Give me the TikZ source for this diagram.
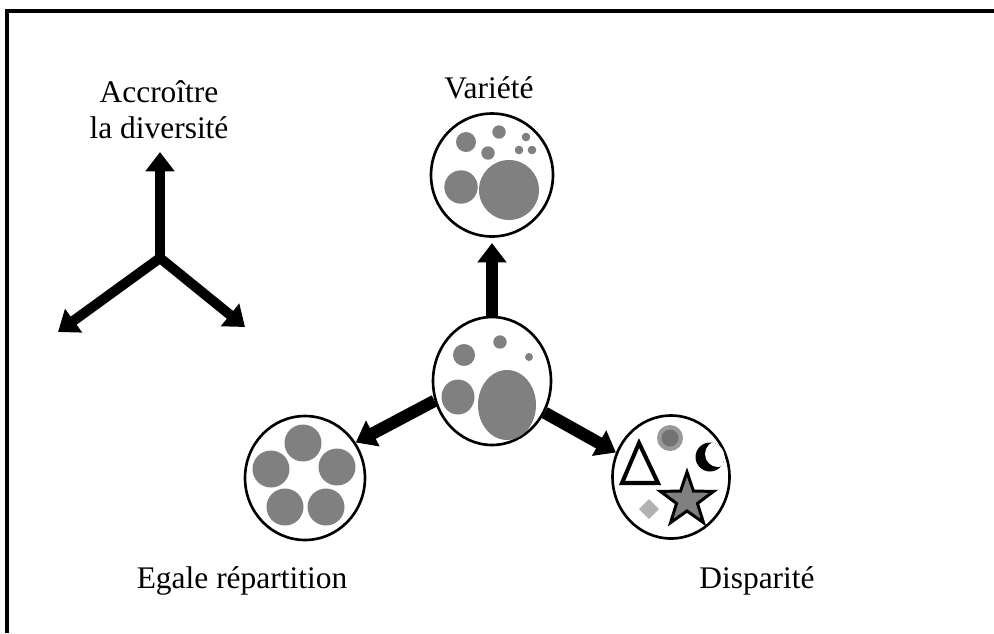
\documentclass[tikz,border=0pt]{standalone}
\usepackage{fontspec}
\setmainfont{Liberation Serif}
\usetikzlibrary{shapes.geometric, arrows.meta}

\tikzset{
    bubble/.style={ellipse, draw, line width=1.5pt, fill=white, inner sep=0pt},
    disk/.style={fill=black!50},
    bigarrow/.style={line width=7pt, -{Triangle[length=11pt, width=16pt]}},
    iconarrow/.style={line width=5.7pt, line cap=round, -{Triangle[length=11pt, width=16pt]}},
    lbl/.style={font=\fontsize{17.9}{20.4}\selectfont, inner sep=0pt, anchor=base}
}

\begin{document}
\begin{tikzpicture}[x=0.02cm, y=-0.02cm]
    \useasboundingbox (0,0) rectangle (994,633);

    % Frame
    \draw[line width=2.3pt] (7,633) -- (7,11) -- (994,11);

    % The small three-way sign
    \coordinate (hub) at (160,258);
    \coordinate (hub-up) at (160,152);
    \coordinate (hub-left) at (58,332);
    \coordinate (hub-right) at (245,327);
    \draw[iconarrow] (hub) -- (hub-up);
    \draw[iconarrow] (hub) -- (hub-left);
    \draw[iconarrow] (hub) -- (hub-right);

    % The four bubbles
    \node[bubble, minimum width=2.44cm, minimum height=2.46cm] (var) at (492,175) {};
    \node[bubble, minimum width=2.36cm, minimum height=2.56cm] (ctr) at (492,381) {};
    \node[bubble, minimum width=2.4cm, minimum height=2.48cm] (ega) at (305,478) {};
    \node[bubble, minimum width=2.34cm, minimum height=2.46cm] (dis) at (671,477) {};

    % Arrows between the bubbles
    \draw[bigarrow, shorten >=3pt] (ctr.90) -- (var.270);
    \draw[bigarrow] (ctr.199) -- (ega.35);
    \draw[bigarrow] (ctr.-31) -- (dis.156);

    % Variety
    \fill[disk] (466,142) circle (10);
    \fill[disk] (499,132) circle (6.7);
    \fill[disk] (488,153) circle (6.7);
    \fill[disk] (526,137) circle (4.3);
    \fill[disk] (519,150) circle (4.3);
    \fill[disk] (532,150) circle (4.3);
    \fill[disk] (461,187) circle (16.7);
    \fill[disk] (509,190) circle (30);

    % Centre
    \fill[disk] (500,342) circle (6.7);
    \fill[disk] (464,355) circle (11);
    \fill[disk] (529,357) circle (4);
    \fill[disk] (458,397) ellipse [x radius=16.5, y radius=17.5];
    \fill[disk] (507,405) ellipse [x radius=29, y radius=35];

    % Balance
    \foreach \p in {(303,443), (271,469), (337,467), (285,507), (326,507)}
        \fill[disk] \p circle (18.5);

    % Disparity
    \fill[black!40] (670,438) circle (13);
    \fill[black!55] (670,438) circle (8.5);
    \draw[line width=2.3pt, line join=miter] (639,443) -- (622,483) -- (658,483) -- cycle;
    \begin{scope}
        \clip (710,457) circle (14.5);
        \fill[black] (710,457) circle (14.5);
        \fill[white] (718,454) circle (13);
    \end{scope}
    \draw[fill=black!50, line width=1.7pt, shift={(687,500)}]
        (-90:28) -- (-54:11) -- (-18:28) -- (18:11) -- (54:28) -- (90:11)
        -- (126:28) -- (162:11) -- (198:28) -- (234:11) -- cycle;
    \fill[black!30] (649,499) -- (659,509) -- (649,519) -- (639,509) -- cycle;

    % Labels
    \node[lbl, align=center] (acc-lbl) at (159,138) {Accroître\\la diversité};
    \node[lbl] (var-lbl) at (489,98) {Variété};
    \node[lbl] (ega-lbl) at (242,588) {Egale répartition};
    \node[lbl] (dis-lbl) at (757,588) {Disparité};
\end{tikzpicture}
\end{document}
